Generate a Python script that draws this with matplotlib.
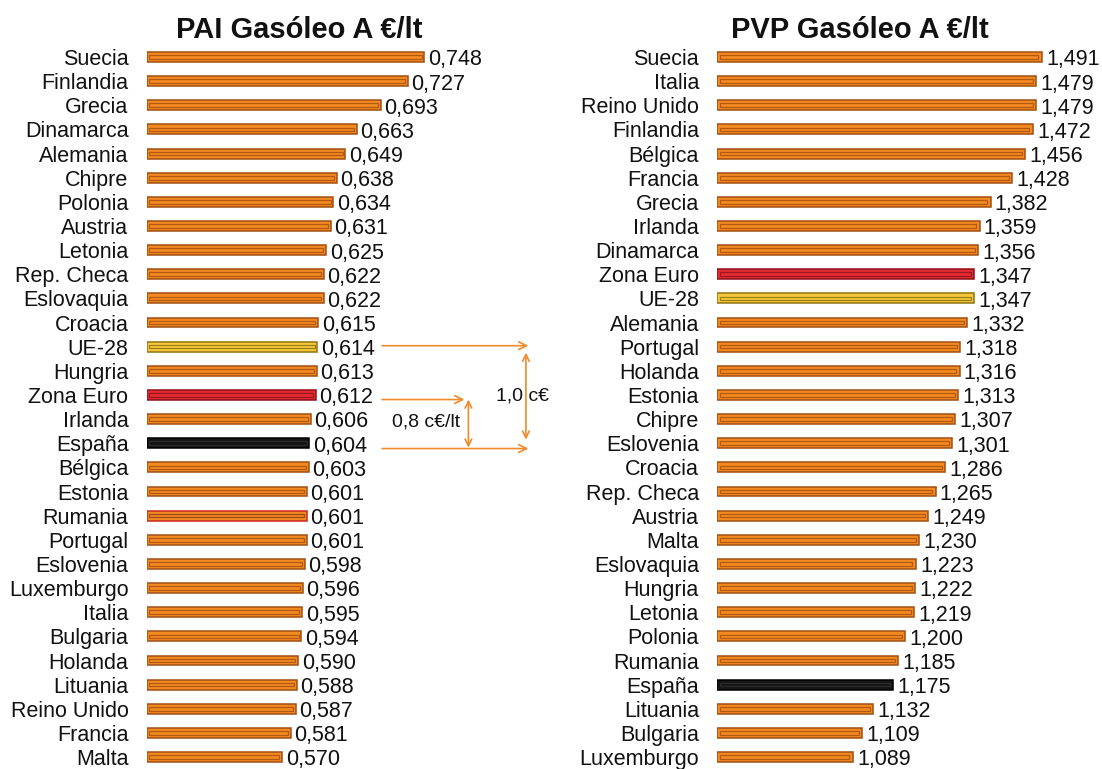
import matplotlib
matplotlib.use('Agg')
import matplotlib.pyplot as plt
import numpy as np

plt.rcParams['font.family'] = ['Liberation Sans', 'DejaVu Sans']

# ---------------- data ----------------
pai_countries = ['Suecia', 'Finlandia', 'Grecia', 'Dinamarca', 'Alemania', 'Chipre',
                 'Polonia', 'Austria', 'Letonia', 'Rep. Checa', 'Eslovaquia', 'Croacia',
                 'UE-28', 'Hungria', 'Zona Euro', 'Irlanda', 'España', 'Bélgica',
                 'Estonia', 'Rumania', 'Portugal', 'Eslovenia', 'Luxemburgo', 'Italia',
                 'Bulgaria', 'Holanda', 'Lituania', 'Reino Unido', 'Francia', 'Malta']
pai_values = [0.748, 0.727, 0.693, 0.663, 0.649, 0.638, 0.634, 0.631, 0.625, 0.622,
              0.622, 0.615, 0.614, 0.613, 0.612, 0.606, 0.604, 0.603, 0.601, 0.601,
              0.601, 0.598, 0.596, 0.595, 0.594, 0.590, 0.588, 0.587, 0.581, 0.570]

pvp_countries = ['Suecia', 'Italia', 'Reino Unido', 'Finlandia', 'Bélgica', 'Francia',
                 'Grecia', 'Irlanda', 'Dinamarca', 'Zona Euro', 'UE-28', 'Alemania',
                 'Portugal', 'Holanda', 'Estonia', 'Chipre', 'Eslovenia', 'Croacia',
                 'Rep. Checa', 'Austria', 'Malta', 'Eslovaquia', 'Hungria', 'Letonia',
                 'Polonia', 'Rumania', 'España', 'Lituania', 'Bulgaria', 'Luxemburgo']
pvp_values = [1.491, 1.479, 1.479, 1.472, 1.456, 1.428, 1.382, 1.359, 1.356, 1.347,
              1.347, 1.332, 1.318, 1.316, 1.313, 1.307, 1.301, 1.286, 1.265, 1.249,
              1.230, 1.223, 1.222, 1.219, 1.200, 1.185, 1.175, 1.132, 1.109, 1.089]

pai_title = 'PAI Gasóleo A €/lt'
pvp_title = 'PVP Gasóleo A €/lt'

# ---------------- styles ----------------
ORANGE = ('#F28A22', '#A04E12', '#B35A10')
YELLOW = ('#F6C93C', '#8F7412', '#9C7E14')
RED = ('#E62A34', '#8E1018', '#9A1820')
BLACK = ('#151515', '#000000', '#2A2A2A')
RUMANIA_L = ('#F28A22', '#C8281E', '#9E4A12')
special = {'UE-28': YELLOW, 'Zona Euro': RED, 'España': BLACK}

W, H = 1102, 769
fig = plt.figure(figsize=(W / 100, H / 100), dpi=100)
row_px = 24.14
top_row_px = 57.0
LABEL_FS = 15.5


def axes_rect(x0_px, x1_px, n):
    top = top_row_px - row_px / 2
    bottom = top_row_px + (n - 1) * row_px + row_px / 2
    return [x0_px / W, 1 - bottom / H, (x1_px - x0_px) / W, (bottom - top) / H]


def draw_panel(ax, countries, values, xmin, xmax, title, title_x, left_panel):
    n = len(countries)
    y = np.arange(n)
    vals = np.array(values)
    span = xmax - xmin
    inset = span * 0.009
    for yi, c, v in zip(y, countries, vals):
        sty = special.get(c, ORANGE)
        if left_panel and c == 'Rumania':
            sty = RUMANIA_L
        face, edge, inner = sty
        ax.barh(yi, v - xmin, left=xmin, height=0.41, color=face,
                edgecolor=edge, linewidth=1.1, zorder=2)
        ax.barh(yi, v - xmin - 2 * inset, left=xmin + inset, height=0.15,
                fill=False, edgecolor=inner, linewidth=0.9, zorder=3)
        ax.text(v + span * 0.011, yi + 0.12, f'{v:.3f}'.replace('.', ','),
                ha='left', va='center', fontsize=LABEL_FS, color='#111111',
                clip_on=False)
    ax.set_xlim(xmin, xmax)
    ax.set_ylim(n - 0.5, -0.5)
    ax.set_yticks(y)
    ax.set_yticklabels(countries, fontsize=LABEL_FS, color='#111111')
    ax.tick_params(axis='y', length=0, pad=13)
    ax.set_xticks([])
    for s in ax.spines.values():
        s.set_visible(False)
    fig.text(title_x / W, 1 - 38 / H, title, ha='center', va='baseline',
             fontsize=21, fontweight='bold', color='#111111')


ax1 = fig.add_axes(axes_rect(146.5, 466, len(pai_countries)))
draw_panel(ax1, pai_countries, pai_values, 0.4, 0.8, pai_title, 299, True)

ax2 = fig.add_axes(axes_rect(717, 1093, len(pvp_countries)))
draw_panel(ax2, pvp_countries, pvp_values, 0.8, 1.6, pvp_title, 860, False)

# ---------------- annotations (left panel) ----------------
AC = '#F08A2A'
hstyle = dict(arrowstyle='->', color=AC, lw=1.2, mutation_scale=14,
              shrinkA=0, shrinkB=0)
vstyle = dict(arrowstyle='<->', color=AC, lw=1.2, mutation_scale=12,
              shrinkA=0, shrinkB=0)
ue_i = pai_countries.index('UE-28')
ze_i = pai_countries.index('Zona Euro')
es_i = pai_countries.index('España')

ax1.annotate('', xy=(0.878, ue_i - 0.04), xytext=(0.695, ue_i - 0.04),
             arrowprops=hstyle, annotation_clip=False)
ax1.annotate('', xy=(0.798, ze_i + 0.19), xytext=(0.695, ze_i + 0.19),
             arrowprops=hstyle, annotation_clip=False)
ax1.annotate('', xy=(0.878, es_i + 0.22), xytext=(0.695, es_i + 0.22),
             arrowprops=hstyle, annotation_clip=False)
ax1.annotate('', xy=(0.803, ze_i + 0.19), xytext=(0.803, es_i + 0.18),
             arrowprops=vstyle, annotation_clip=False)
ax1.annotate('', xy=(0.875, ue_i + 0.25), xytext=(0.875, es_i - 0.15),
             arrowprops=vstyle, annotation_clip=False)
ax1.text(0.750, ze_i + 1.14, '0,8 c€/lt', ha='center', va='center',
         fontsize=14, color='#111111', clip_on=False)
ax1.text(0.838, ze_i + 0.03, '1,0 c€', ha='left', va='center',
         fontsize=14, color='#111111', clip_on=False)

fig.savefig('out.png', dpi=100, facecolor='white')
